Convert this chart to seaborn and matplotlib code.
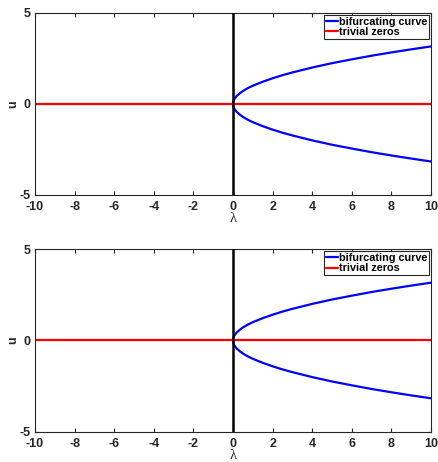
import numpy as np
import pandas as pd
import matplotlib
matplotlib.use("Agg")
import matplotlib.pyplot as plt
import seaborn as sns

# values (upper branch of the bifurcating curve)
lam = [0, 0.01, 0.04, 0.1, 0.2, 0.35, 0.5, 0.75, 1, 1.5, 2, 2.5, 3, 4, 5, 6, 7, 8, 9, 10]
u_up = [0, 0.10, 0.20, 0.32, 0.45, 0.59, 0.71, 0.87, 1.00, 1.22, 1.41, 1.58,
        1.73, 2.00, 2.24, 2.45, 2.65, 2.83, 3.00, 3.16]
u_low = [-v for v in u_up]
triv_lam = [-10, 10]
triv_u = [0, 0]
xticks = [-10, -8, -6, -4, -2, 0, 2, 4, 6, 8, 10]
yticks = [-5, 0, 5]

sns.set_style("ticks")
plt.rcParams['font.family'] = ['Liberation Sans', 'DejaVu Sans']
plt.rcParams['font.weight'] = 'bold'
plt.rcParams['axes.unicode_minus'] = False

dark = '#262626'
fig = plt.figure(figsize=(4.39, 4.62), dpi=100)
positions = [[0.0797, 0.578, 0.902, 0.394], [0.0797, 0.065, 0.902, 0.396]]

for pos in positions:
    ax = fig.add_axes(pos)
    sns.lineplot(x=lam, y=u_up, color='blue', lw=1.6, label='bifurcating curve', ax=ax)
    sns.lineplot(x=lam, y=u_low, color='blue', lw=1.6, ax=ax)
    sns.lineplot(x=triv_lam, y=triv_u, color='red', lw=1.6, label='trivial zeros', ax=ax)
    ax.axvline(0, color='black', lw=1.8, zorder=5)

    ax.set_xlim(-10, 10)
    ax.set_ylim(-5, 5)
    ax.set_xticks(xticks)
    ax.set_yticks(yticks)
    ax.tick_params(direction='in', length=3, width=0.8, top=True, right=True,
                   labelsize=9, colors=dark)
    ax.tick_params(axis='x', pad=4.5)
    ax.tick_params(axis='y', pad=3)
    for lab in ax.get_xticklabels() + ax.get_yticklabels():
        lab.set_fontweight('bold')
    for s in ax.spines.values():
        s.set_visible(True)
        s.set_color(dark)
        s.set_linewidth(0.8)
    ax.set_xlabel('λ', fontsize=10.5, labelpad=-1, color=dark,
                  fontweight='normal', family=['Liberation Serif', 'DejaVu Serif'])
    ax.set_ylabel('u', fontsize=9, fontweight='bold', labelpad=0, color=dark)

    leg = ax.legend(loc='upper right', fontsize=7.8, borderaxespad=0.2, handlelength=1.1,
                    handletextpad=0.1, borderpad=0.15, labelspacing=0.05,
                    fancybox=False, framealpha=1, edgecolor=dark)
    leg.get_frame().set_linewidth(0.8)
    for t in leg.get_texts():
        t.set_fontweight('bold')
        t.set_color('black')

fig.savefig('out.png', dpi=100)
